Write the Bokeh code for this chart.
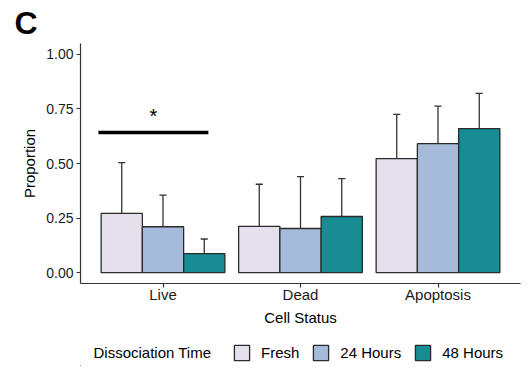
from bokeh.plotting import figure
from bokeh.layouts import column
from bokeh.models import (Range1d, FixedTicker, Legend, LegendItem, Label)
from bokeh.core.properties import value
from bokeh.embed import file_html
from bokeh.resources import INLINE

categories = ["Live", "Dead", "Apoptosis"]
series = ["Fresh", "24 Hours", "48 Hours"]
colors = ["#E6DFEC", "#A6BBDA", "#178C92"]
means = {
    "Fresh":    [0.271, 0.212, 0.522],
    "24 Hours": [0.210, 0.202, 0.591],
    "48 Hours": [0.087, 0.257, 0.660],
}
upper = {
    "Fresh":    [0.504, 0.405, 0.725],
    "24 Hours": [0.355, 0.440, 0.763],
    "48 Hours": [0.154, 0.431, 0.821],
}
y_ticks = [0.0, 0.25, 0.50, 0.75, 1.00]
y_tick_labels = ["0.00", "0.25", "0.50", "0.75", "1.00"]
sig_x = [0.53, 1.33]
sig_y = 0.642
sig_star_x = 0.93
sig_star_y = 0.716
legend_title = "Dissociation Time"
panel_label = "C"

FONT = "Liberation Sans"
TXT = "#1a1a1a"

p = figure(width=522, height=334, output_backend="svg", toolbar_location=None,
           x_range=Range1d(0.4, 3.6), y_range=Range1d(-0.05, 1.05),
           min_border_left=80, min_border_right=2, min_border_top=43,
           min_border_bottom=51)
p.outline_line_color = None
p.xgrid.visible = False
p.ygrid.visible = False

p.title.text = panel_label
p.title.text_font = FONT
p.title.text_font_size = "32px"
p.title.text_font_style = "bold"
p.title.text_color = "black"
p.title.align = "left"
p.title.offset = -66
p.title.standoff = 5

offsets = [-0.3, 0.0, 0.3]
bw = 0.3
cap = 0.026
for s, off, col in zip(series, offsets, colors):
    xs = [i + 1 + off for i in range(len(categories))]
    p.segment(x0=xs, y0=means[s], x1=xs, y1=upper[s], line_color="#333333", line_width=1.3)
    p.segment(x0=[x - cap for x in xs], y0=upper[s], x1=[x + cap for x in xs], y1=upper[s],
              line_color="#333333", line_width=1.3)
    p.vbar(x=xs, top=means[s], bottom=0, width=bw, fill_color=col,
           line_color="#2a2a2a", line_width=1.3)

# significance
p.segment(x0=[sig_x[0]], y0=[sig_y], x1=[sig_x[1]], y1=[sig_y], line_color="black", line_width=3.3)
p.text(x=[sig_star_x], y=[sig_star_y], text=["*"], text_font=value(FONT),
       text_font_size="20px", text_align="center", text_baseline="alphabetic",
       text_color="black")

# axes
for ax in (p.xaxis[0], p.yaxis[0]):
    ax.axis_line_color = "#333333"
    ax.axis_line_width = 1.2
    ax.major_tick_line_color = "#333333"
    ax.major_tick_line_width = 1.2
    ax.major_tick_out = 4
    ax.major_tick_in = 0
    ax.minor_tick_line_color = None
    ax.major_label_text_font = FONT
    ax.major_label_text_color = TXT
    ax.axis_label_text_font = FONT
    ax.axis_label_text_font_style = "normal"
    ax.axis_label_text_color = "black"
    ax.axis_label_text_font_size = "15px"

p.xaxis.ticker = FixedTicker(ticks=[1, 2, 3])
p.xaxis.major_label_overrides = {i + 1: c for i, c in enumerate(categories)}
p.xaxis.major_label_text_font_size = "15px"
p.xaxis.axis_label = "Cell Status"
p.xaxis.major_label_standoff = -2
p.xaxis.axis_label_standoff = 3

p.yaxis.ticker = FixedTicker(ticks=y_ticks)
p.yaxis.major_label_overrides = {t: l for t, l in zip(y_ticks, y_tick_labels)}
p.yaxis.major_label_text_font_size = "14px"
p.yaxis.axis_label = "Proportion"
p.yaxis.major_label_standoff = 3
p.yaxis.axis_label_standoff = 5

# legend strip (frame aligned with the main plot's frame; ranges in page pixels,
# offset so the strip's own copies of the bars lie far outside its frame)
q = figure(width=522, height=32, output_backend="svg", toolbar_location=None,
           x_range=Range1d(1080, 1520), y_range=Range1d(1000, 1032),
           min_border_left=80, min_border_right=2,
           min_border_top=0, min_border_bottom=0)
q.axis.visible = False
q.grid.visible = False
q.outline_line_color = None
items = []
for s, off, col in zip(series, offsets, colors):
    xs = [i + 1 + off for i in range(len(categories))]
    r = q.vbar(x=xs, top=means[s], bottom=0, width=bw, fill_color=col,
               line_color="#2a2a2a", line_width=1.3)
    items.append(LegendItem(label=s, renderers=[r]))
legend = Legend(items=items, orientation="horizontal", location=(152, 4),
                label_text_font=FONT, label_text_font_size="15px",
                label_text_color="black", label_height=19,
                glyph_width=19, glyph_height=19, label_standoff=10, spacing=12,
                padding=0, margin=0, border_line_color=None,
                background_fill_alpha=0)
q.add_layout(legend, "center")
q.add_layout(Label(x=1093, y=1014, text=legend_title, text_font=FONT,
                   text_font_size="15px", text_color="black",
                   text_baseline="middle", text_align="left"))

open("out.html", "w").write(file_html(column(p, q, spacing=0), INLINE))
